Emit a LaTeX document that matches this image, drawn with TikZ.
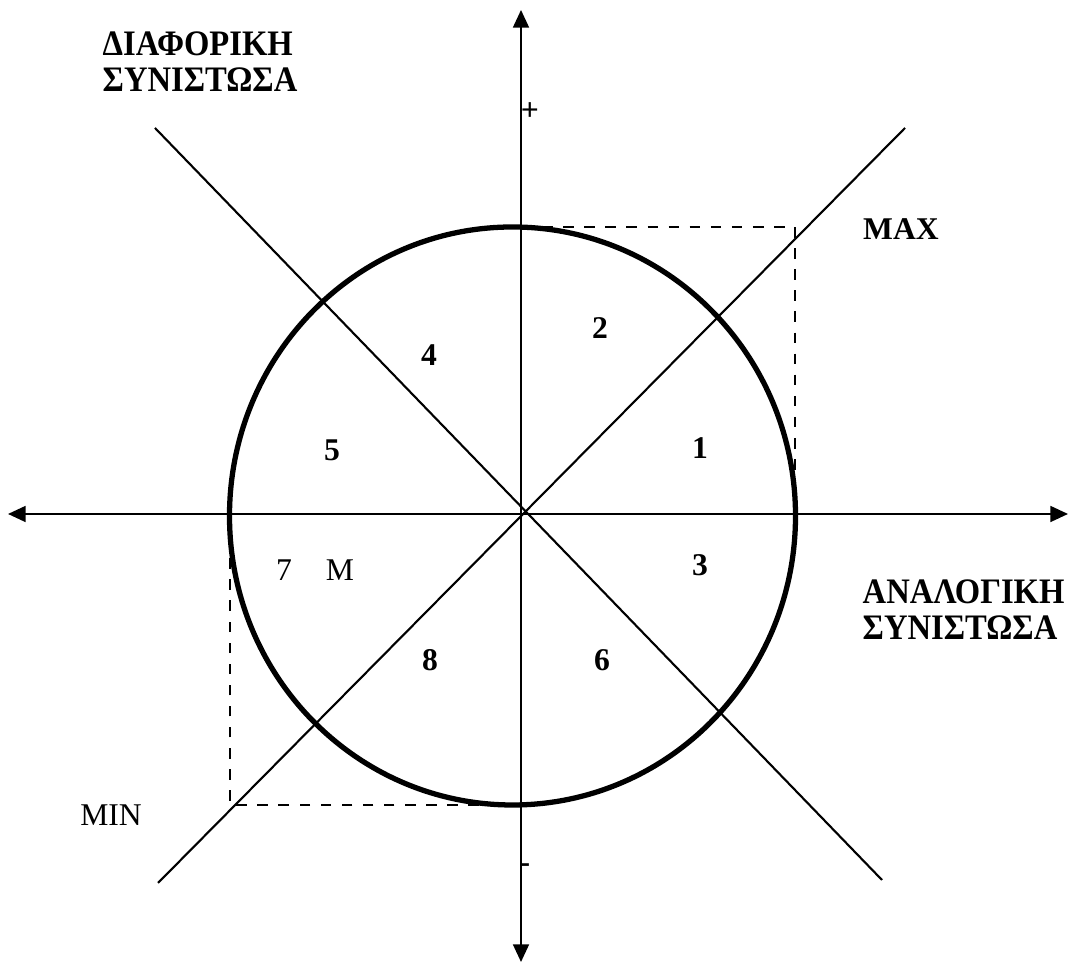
\documentclass[tikz,border=0pt]{standalone}
\usepackage{fontspec}
\setmainfont{Liberation Serif}
\newfontfamily\narrowserif[FakeStretch=0.91]{Liberation Serif}
\usepackage{tikz}
\usetikzlibrary{arrows.meta}

\begin{document}
\begin{tikzpicture}[
		x=1cm, y=1cm,
		>={Triangle[length=5pt,width=4.5pt]},
		axis/.style={
			<->,
			line width=0.6pt,
			draw=black
		},
		diag/.style={
			line width=0.6pt,
			draw=black
		},
		ring/.style={
			line width=1.5pt,
			draw=black
		},
		guide/.style={
			dashed,
			line width=0.5pt,
			draw=black
		},
		title/.style={
			font=\narrowserif\fontsize{10.2}{10.2}\selectfont\bfseries,
			align=left,
			anchor=west,
			inner sep=0pt
		},
		tag/.style={
			font=\fontsize{9}{10}\selectfont\bfseries,
			inner sep=1pt
		},
		plain/.style={
			font=\fontsize{9}{10}\selectfont,
			inner sep=1pt
		}
	]
	\useasboundingbox (0,0) rectangle (10.74,9.68);
	
	% Axes
	\coordinate (O) at (5.21,4.54);
	\coordinate (west) at (0.08,4.54);
	\coordinate (east) at (10.68,4.54);
	\coordinate (north) at (5.21,9.58);
	\coordinate (south) at (5.21,0.06);
	\draw[axis] (west) -- (east);
	\draw[axis] (south) -- (north);
	
	% Diagonals
	\coordinate (d1a) at (1.58,0.85);
	\coordinate (d1b) at (9.05,8.40);
	\coordinate (d2a) at (1.55,8.40);
	\coordinate (d2b) at (8.82,0.88);
	\draw[diag] (d1a) -- (d1b);
	\draw[diag] (d2a) -- (d2b);
	
	% Circle
	\coordinate (cc) at (5.125,4.52);
	\draw[ring] (cc) ellipse [x radius=2.83, y radius=2.89];
	
	% Dashed limits
	\coordinate (maxc) at (7.95,7.41);
	\coordinate (maxv) at (5.21,7.41);
	\coordinate (maxh) at (7.95,4.54);
	\coordinate (minc) at (2.30,1.63);
	\coordinate (minv) at (5.21,1.63);
	\coordinate (minh) at (2.30,4.54);
	\draw[guide] (maxv) -- (maxc) -- (maxh);
	\draw[guide] (minv) -- (minc) -- (minh);
	
	% Axis labels
	\node[title] (diaf) at (1.02,9.06) {ΔΙΑΦΟΡΙΚΗ\\ΣΥΝΙΣΤΩΣΑ};
	\node[title] (anal) at (8.62,3.58) {ΑΝΑΛΟΓΙΚΗ\\ΣΥΝΙΣΤΩΣΑ};
	\node[tag] (plus) at (5.30,8.56) {+};
	\node[tag] (minus) at (5.25,1.00) {-};
	\node[tag] (max) at (9.01,7.39) {MAX};
	\node[plain] (min) at (1.11,1.53) {MIN};
	
	% Regions
	\node[tag] (r1) at (7.00,5.20) {1};
	\node[tag] (r2) at (6.00,6.40) {2};
	\node[tag] (r3) at (7.00,4.03) {3};
	\node[tag] (r4) at (4.29,6.13) {4};
	\node[tag] (r5) at (3.32,5.18) {5};
	\node[tag] (r6) at (6.02,3.08) {6};
	\node[plain] (r7) at (2.84,3.98) {7};
	\node[plain] (rm) at (3.40,3.98) {M};
	\node[tag] (r8) at (4.30,3.08) {8};
	
\end{tikzpicture}
\end{document}
